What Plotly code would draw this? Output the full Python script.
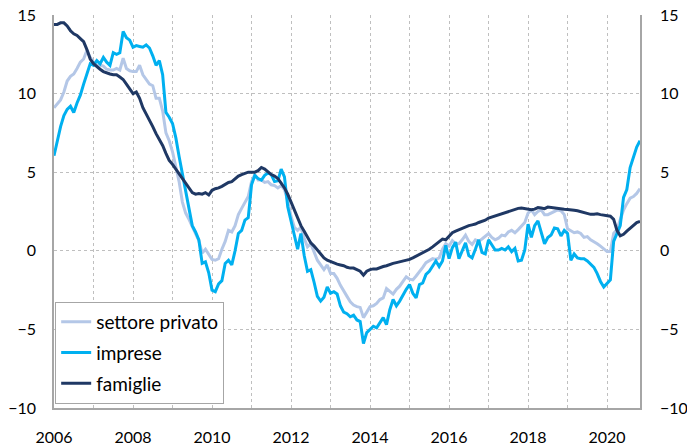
import plotly.graph_objects as go

# Monthly data, Jan 2006 - Nov 2020
start_year = 2006
settore_privato = [
    # 2006
    9.1, 9.35, 9.6, 10.1, 10.8, 11.1, 11.25, 11.6, 12.0, 12.2, 12.75, 12.3,
    # 2007
    12.0, 11.8, 11.8, 11.75, 11.55, 11.5, 11.5, 11.6, 11.5, 12.25, 11.6, 11.45,
    # 2008
    11.4, 11.4, 11.8, 11.2, 10.9, 10.6, 10.5, 9.7, 9.7, 8.9, 7.5, 7.0,
    # 2009
    6.3, 5.4, 4.4, 3.1, 2.4, 2.0, 1.5, 1.1, 0.65, -0.15, 0.1, -0.2,
    # 2010
    -0.55, -0.6, -0.5, 0.1, 0.6, 1.3, 1.2, 1.6, 2.3, 2.7, 3.05, 3.45,
    # 2011
    4.4, 4.85, 4.5, 4.5, 4.35, 4.4, 4.2, 4.15, 4.0, 4.15, 3.9, 3.2,
    # 2012
    2.2, 1.5, 1.3, 1.5, 0.8, 0.25, 0.45, -0.05, -0.6, -0.9, -1.2, -0.9,
    # 2013
    -1.45, -1.45, -1.75, -2.2, -2.6, -2.9, -3.25, -3.45, -3.55, -3.6, -4.25, -3.85,
    # 2014
    -3.55, -3.5, -3.35, -3.1, -3.0, -2.4, -2.6, -2.75, -2.45, -2.25, -1.95, -1.65,
    # 2015
    -1.8, -1.85, -1.6, -1.35, -1.05, -0.75, -0.6, -0.5, -0.55, -0.45, 0.1, 0.45,
    # 2016
    0.3, 0.65, 0.45, 0.45, 0.7, 1.0, 0.6, 0.4, 0.7, 0.6, 0.75, 0.9,
    # 2017
    1.1, 0.85, 0.7, 0.8, 1.0, 0.95, 1.2, 1.3, 1.15, 1.35, 1.55, 1.8,
    # 2018
    2.4, 2.6, 2.3, 2.5, 2.6, 2.3, 2.3, 2.4, 2.5, 2.6, 2.55, 2.3,
    # 2019
    1.4, 1.3, 1.15, 1.2, 1.1, 0.85, 0.9, 0.7, 0.6, 0.45, 0.3, 0.1,
    # 2020
    -0.05, -0.05, 1.1, 1.35, 1.95, 2.6, 3.0, 3.35, 3.45, 3.65, 3.95,
]
imprese = [
    # 2006
    6.05, 7.0, 7.9, 8.6, 9.0, 9.2, 8.8, 9.4, 9.9, 10.6, 11.3, 11.9,
    # 2007
    11.8, 12.1, 11.9, 12.3, 12.0, 11.8, 12.6, 12.5, 12.6, 13.95, 13.55, 13.4,
    # 2008
    12.95, 13.05, 13.0, 12.95, 13.1, 12.9, 12.4, 11.8, 12.1, 11.2, 8.8, 8.5,
    # 2009
    8.1, 7.2, 6.0, 4.9, 3.8, 2.6, 1.6, 1.2, 0.7, -0.8, -0.7, -1.4,
    # 2010
    -2.5, -2.6, -2.1, -1.9, -0.8, -0.6, -0.9, 0.0, 1.1, 1.3, 1.95, 2.1,
    # 2011
    4.2, 4.8, 4.6, 4.5, 4.8, 4.95, 4.85, 4.4, 4.45, 5.2, 4.7, 2.8,
    # 2012
    1.9, 1.1, 0.1, 1.1, -0.3, -1.3, -1.2, -2.0, -2.9, -3.2, -2.95, -2.3,
    # 2013
    -2.7, -2.6, -2.75, -3.5, -3.9, -4.0, -4.2, -4.1, -4.4, -4.5, -5.9, -5.2,
    # 2014
    -5.0, -4.8, -4.9, -4.6, -4.25, -4.7, -3.75, -3.1, -3.5, -3.2, -2.8, -2.45,
    # 2015
    -2.15, -2.7, -3.0, -2.15, -2.05, -1.5, -1.3, -1.0, -0.65, -1.0, -0.65, 0.35,
    # 2016
    -0.5, 0.2, 0.55, -0.5, 0.0, 0.5, -0.3, -0.45, 0.1, 0.7, -0.1, -0.2,
    # 2017
    0.7, 0.35, 0.05, 0.05, 0.15, 0.05, 0.25, -0.05, 0.15, -0.65, -0.6, 0.05,
    # 2018
    1.7, 0.85, 1.6, 1.9, 1.1, 0.45, 0.85, 1.0, 1.45, 1.4, 0.95, 1.3,
    # 2019
    1.1, -0.6, -0.2, -0.45, -0.5, -0.5, -0.65, -0.85, -1.05, -1.45, -1.95, -2.3,
    # 2020
    -2.05, -1.85, 0.6, 1.15, 1.6, 3.4, 3.9, 5.3, 6.0, 6.6, 7.0,
]
famiglie = [
    # 2006
    14.4, 14.4, 14.5, 14.5, 14.3, 14.0, 13.8, 13.7, 13.5, 13.3, 12.8, 12.2,
    # 2007
    11.9, 11.7, 11.55, 11.4, 11.3, 11.25, 11.2, 11.2, 11.05, 10.9, 10.6, 10.3,
    # 2008
    10.0, 10.1, 9.7, 9.1, 8.7, 8.4, 7.9, 7.45, 7.1, 6.7, 6.2, 5.75,
    # 2009
    5.5, 5.2, 4.9, 4.6, 4.3, 3.95, 3.7, 3.6, 3.65, 3.6, 3.7, 3.55,
    # 2010
    3.85, 3.95, 4.0, 4.1, 4.25, 4.35, 4.4, 4.6, 4.75, 4.85, 4.95, 5.0,
    # 2011
    5.0, 5.0, 5.1, 5.3, 5.2, 5.0, 4.85, 4.75, 4.6, 4.3, 4.0, 3.6,
    # 2012
    3.1, 2.6, 2.1, 1.6, 1.25, 0.85, 0.5, 0.3, 0.05, -0.25, -0.45, -0.6,
    # 2013
    -0.7, -0.75, -0.85, -0.9, -0.95, -1.05, -1.1, -1.1, -1.2, -1.3, -1.55, -1.3,
    # 2014
    -1.2, -1.15, -1.15, -1.05, -1.0, -0.95, -0.85, -0.8, -0.75, -0.7, -0.65, -0.6,
    # 2015
    -0.55, -0.45, -0.35, -0.25, -0.15, -0.05, 0.1, 0.25, 0.4, 0.6, 0.75, 0.7,
    # 2016
    0.95, 1.15, 1.25, 1.35, 1.45, 1.5, 1.6, 1.65, 1.7, 1.8, 1.87, 1.95,
    # 2017
    2.08, 2.15, 2.23, 2.3, 2.38, 2.45, 2.5, 2.59, 2.65, 2.7, 2.72, 2.7,
    # 2018
    2.65, 2.62, 2.65, 2.75, 2.72, 2.68, 2.78, 2.75, 2.7, 2.7, 2.68, 2.65,
    # 2019
    2.63, 2.62, 2.58, 2.55, 2.5, 2.45, 2.4, 2.32, 2.33, 2.35, 2.3, 2.27,
    # 2020
    2.25, 2.2, 2.0, 1.3, 0.95, 1.05, 1.25, 1.45, 1.65, 1.8, 1.87,
]
series_names = ["settore privato", "imprese", "famiglie"]
series_colors = ["#B4C7E7", "#00B0F0", "#1F3864"]
x_tick_years = list(range(2006, 2021))
x_tick_labels = [str(y) if y % 2 == 0 else "" for y in x_tick_years]
y_ticks = [-10, -5, 0, 5, 10, 15]

n = len(famiglie)
x = [start_year + i / 12 for i in range(n)]

fig = go.Figure()
for name, vals, col in zip(series_names, [settore_privato, imprese, famiglie], series_colors):
    fig.add_trace(go.Scatter(x=x, y=vals, mode="lines", name=name,
                             line=dict(color=col, width=3), legendgroup=name))
# invisible trace for the right axis
fig.add_trace(go.Scatter(x=[x[0]], y=[0], yaxis="y2", showlegend=False,
                         mode="markers", marker=dict(opacity=0), hoverinfo="skip"))

font = dict(family="Lato, Open Sans, sans-serif", size=16, color="#000000")
xmax = start_year + (n - 1) / 12
grid_dash = "3px,3px"
fig.update_layout(
    width=687, height=448,
    margin=dict(l=54, r=47, t=15, b=40, autoexpand=False),
    paper_bgcolor="white", plot_bgcolor="white",
    font=font,
    showlegend=True,
    legend=dict(x=0.002, y=0.27, xanchor="left", yanchor="top",
                bordercolor="#A6A6A6", borderwidth=1, bgcolor="white",
                font=dict(family="Lato, Open Sans, sans-serif", size=19, color="#000000"),
                tracegroupgap=3, itemwidth=30),
    xaxis=dict(range=[start_year, xmax], tickvals=x_tick_years, ticktext=x_tick_labels,
               showgrid=True, gridcolor="#BFBFBF", griddash=grid_dash, gridwidth=1,
               showline=True, linecolor="#A6A6A6", linewidth=1.5, automargin=False,
               ticks="", zeroline=False, ticklabelstandoff=14, ticklabeloverflow="allow"),
    yaxis=dict(range=[-10, 15], tickvals=y_ticks, automargin=False,
               showgrid=True, gridcolor="#BFBFBF", griddash=grid_dash, gridwidth=1,
               showline=True, linecolor="#A6A6A6", linewidth=1.5,
               ticks="", zeroline=False, ticklabelstandoff=13, ticklabeloverflow="allow"),
    yaxis2=dict(range=[-10, 15], tickvals=y_ticks, overlaying="y", side="right",
                showgrid=False, showline=True, linecolor="#A6A6A6", linewidth=1.5,
                automargin=False, ticks="", zeroline=False, ticklabelstandoff=15,
                ticklabeloverflow="allow"),
)
# remove the default page margin so the figure fills the window exactly
fig.write_html("out.html", config={"displayModeBar": False},
               post_script="document.body.style.margin='0';")
